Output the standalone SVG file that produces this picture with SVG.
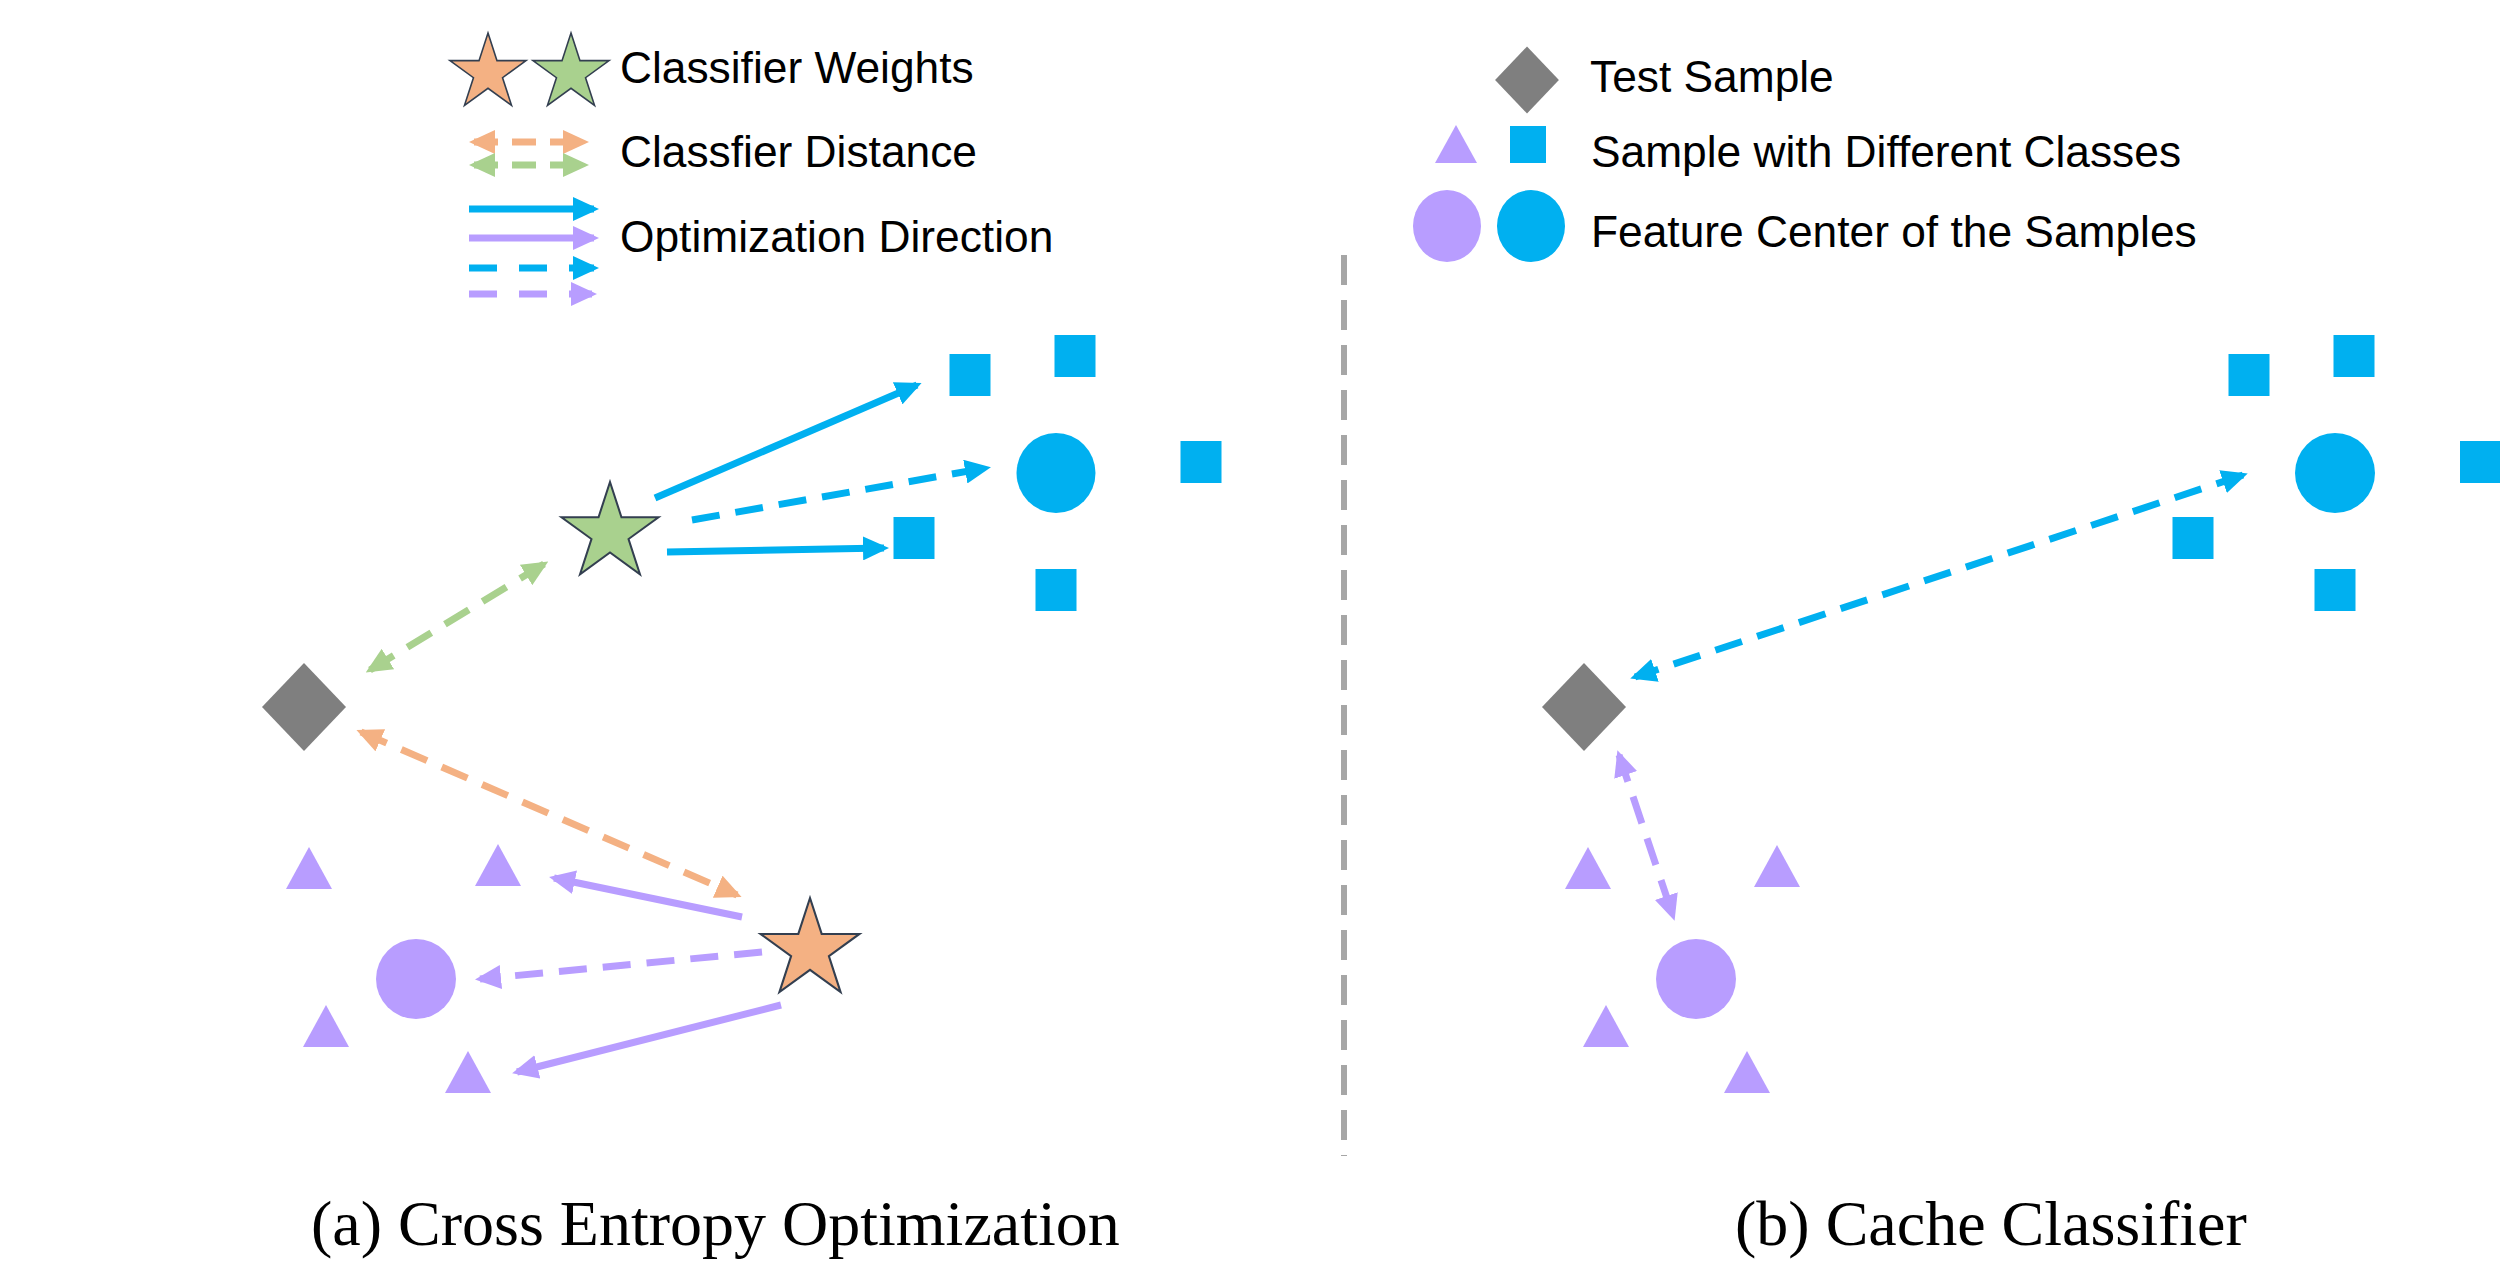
<svg xmlns="http://www.w3.org/2000/svg" width="2500" height="1266" viewBox="0 0 2500 1266">
<style>
.t{font-family:"Liberation Sans",Arial,sans-serif;font-size:44.3px;fill:#000}
.cap{font-family:"Liberation Serif","Times New Roman",serif;font-size:64px;fill:#000}
.blue{fill:#00B0F0}
.purple{fill:#B89DFF}
.gray{fill:#7F7F7F}
.c{fill:none;stroke-width:7}
.cb{stroke:#00B0F0}
.cp{stroke:#B89DFF}
.co{stroke:#F4B183}
.cg{stroke:#A9D18E}
.d{stroke-dasharray:28 16}
.ld{stroke-dasharray:24 14}
</style>
<defs>
<path id="star" d="M0,-50 L11.23,-15.45 L47.55,-15.45 L18.17,5.9 L29.39,40.45 L0,19.1 L-29.39,40.45 L-18.17,5.9 L-47.55,-15.45 L-11.23,-15.45 Z" stroke="#333F50" stroke-width="2" stroke-linejoin="miter"/>
<rect id="sq" x="-20.5" y="-21" width="41" height="42"/>
<path id="tri" d="M0,-21 L23,21 L-23,21 Z"/>
<path id="dia" d="M0,-44 L42,0 L0,44 L-42,0 Z"/>
<marker id="mb" markerUnits="userSpaceOnUse" markerWidth="26" markerHeight="24" refX="21" refY="12" orient="auto-start-reverse"><path d="M0,0 L26,12 L0,24 Z" fill="#00B0F0"/></marker>
<marker id="mp" markerUnits="userSpaceOnUse" markerWidth="26" markerHeight="24" refX="21" refY="12" orient="auto-start-reverse"><path d="M0,0 L26,12 L0,24 Z" fill="#B89DFF"/></marker>
<marker id="mo" markerUnits="userSpaceOnUse" markerWidth="26" markerHeight="24" refX="21" refY="12" orient="auto-start-reverse"><path d="M0,0 L26,12 L0,24 Z" fill="#F4B183"/></marker>
<marker id="mg" markerUnits="userSpaceOnUse" markerWidth="26" markerHeight="24" refX="21" refY="12" orient="auto-start-reverse"><path d="M0,0 L26,12 L0,24 Z" fill="#A9D18E"/></marker>
</defs>
<rect width="2500" height="1266" fill="#fff"/>

<g id="legend-left">
<use href="#star" transform="translate(488,73) scale(0.8)" fill="#F4B183"/>
<use href="#star" transform="translate(571,73) scale(0.8)" fill="#A9D18E"/>
<text class="t" x="620" y="83">Classifier Weights</text>
<line class="c co ld" x1="474" y1="142" x2="584" y2="142" marker-start="url(#mo)" marker-end="url(#mo)"/>
<line class="c cg ld" x1="474" y1="165" x2="584" y2="165" marker-start="url(#mg)" marker-end="url(#mg)"/>
<text class="t" x="620" y="167">Classfier Distance</text>
<line class="c cb" x1="469" y1="209" x2="594" y2="209" marker-end="url(#mb)"/>
<line class="c cp" x1="469" y1="238" x2="594" y2="238" marker-end="url(#mp)"/>
<line class="c cb" x1="469" y1="268" x2="594" y2="268" marker-end="url(#mb)" style="stroke-dasharray:28 22"/>
<line class="c cp" x1="469" y1="294" x2="592" y2="294" marker-end="url(#mp)" style="stroke-dasharray:28 22"/>
<text class="t" x="620" y="252">Optimization Direction</text>
</g>

<g id="legend-right">
<use href="#dia" class="gray" transform="translate(1527,80) scale(0.76)"/>
<text class="t" x="1590" y="92">Test Sample</text>
<path class="purple" d="M1456,125 L1477,163 L1435,163 Z"/>
<rect class="blue" x="1510" y="126" width="36" height="37"/>
<text class="t" x="1591" y="167">Sample with Different Classes</text>
<ellipse class="purple" cx="1447" cy="226" rx="34" ry="36"/>
<ellipse class="blue" cx="1531" cy="226" rx="34" ry="36"/>
<text class="t" x="1591" y="247">Feature Center of the Samples</text>
</g>

<g id="divider">
<line x1="1344" y1="255" x2="1344" y2="1156" stroke="#A6A6A6" stroke-width="6" stroke-dasharray="30 15"/>
</g>

<g id="connectors">
<line class="c cb" x1="655" y1="498" x2="917" y2="385" marker-end="url(#mb)"/>
<line class="c cb d" x1="692" y1="520" x2="986" y2="468" marker-end="url(#mb)"/>
<line class="c cb" x1="667" y1="552" x2="884" y2="548" marker-end="url(#mb)"/>
<line class="c cg d" x1="544" y1="564" x2="370" y2="670" marker-start="url(#mg)" marker-end="url(#mg)"/>
<line class="c co d" x1="361" y1="732" x2="737" y2="895" marker-start="url(#mo)" marker-end="url(#mo)"/>
<line class="c cp" x1="742" y1="917" x2="554" y2="878" marker-end="url(#mp)"/>
<line class="c cp d" x1="762" y1="952" x2="480" y2="979" marker-end="url(#mp)"/>
<line class="c cp" x1="781" y1="1005" x2="517" y2="1072" marker-end="url(#mp)"/>
<line class="c cb d" x1="2243" y1="475" x2="1635" y2="677" marker-start="url(#mb)" marker-end="url(#mb)"/>
<line class="c cp d" x1="1619" y1="755" x2="1673" y2="916" marker-start="url(#mp)" marker-end="url(#mp)"/>
</g>

<g id="left-panel">
<g id="star-green"><use href="#star" transform="translate(610,533) scale(1.02)" fill="#A9D18E"/></g>
<g id="star-orange"><use href="#star" transform="translate(810,950) scale(1.04)" fill="#F4B183"/></g>
<g id="test-left"><use href="#dia" class="gray" x="304" y="707"/></g>
<g id="blue-left">
<use href="#sq" class="blue" x="970" y="375"/>
<use href="#sq" class="blue" x="1075" y="356"/>
<use href="#sq" class="blue" x="1201" y="462"/>
<use href="#sq" class="blue" x="914" y="538"/>
<use href="#sq" class="blue" x="1056" y="590"/>
<ellipse class="blue" cx="1056" cy="473" rx="39.5" ry="40"/>
</g>
<g id="purple-left">
<use href="#tri" class="purple" x="309" y="868"/>
<use href="#tri" class="purple" x="498" y="865"/>
<use href="#tri" class="purple" x="326" y="1026"/>
<use href="#tri" class="purple" x="468" y="1072"/>
<ellipse class="purple" cx="416" cy="979" rx="40" ry="40"/>
</g>
</g>

<g id="right-panel">
<g id="test-right"><use href="#dia" class="gray" x="1584" y="707"/></g>
<g id="blue-right">
<use href="#sq" class="blue" x="2249" y="375"/>
<use href="#sq" class="blue" x="2354" y="356"/>
<use href="#sq" class="blue" x="2480.5" y="462"/>
<use href="#sq" class="blue" x="2193" y="538"/>
<use href="#sq" class="blue" x="2335" y="590"/>
<ellipse class="blue" cx="2335" cy="473" rx="40" ry="40"/>
</g>
<g id="purple-right">
<use href="#tri" class="purple" x="1588" y="868"/>
<use href="#tri" class="purple" x="1777" y="866"/>
<use href="#tri" class="purple" x="1606" y="1026"/>
<use href="#tri" class="purple" x="1747" y="1072"/>
<ellipse class="purple" cx="1696" cy="979" rx="40" ry="40"/>
</g>
</g>

<g id="captions">
<text class="cap" x="311" y="1245">(a) Cross Entropy Optimization</text>
<text class="cap" x="1735" y="1245">(b) Cache Classifier</text>
</g>
</svg>
